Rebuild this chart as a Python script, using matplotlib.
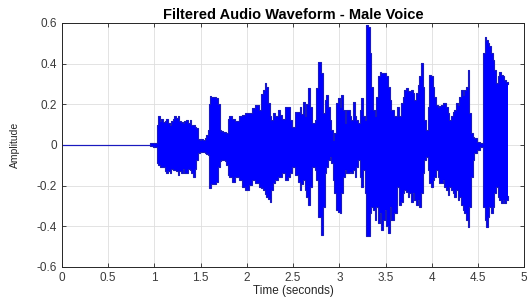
import numpy as np
import matplotlib
matplotlib.use("Agg")
import matplotlib.pyplot as plt

plt.rcParams['font.family'] = ['Liberation Sans', 'DejaVu Sans']

# envelope of the filtered signal (time s, upper, lower)
time_s = [0.0, 0.95, 0.96, 1.0, 1.02,
          1.03, 1.046, 1.064, 1.082, 1.10, 1.118, 1.136, 1.154, 1.172, 1.19,
          1.208, 1.226, 1.244, 1.262, 1.28, 1.298, 1.316, 1.334, 1.352, 1.37,
          1.389, 1.407, 1.425, 1.443, 1.461, 1.479, 1.497, 1.515, 1.533, 1.551,
          1.569, 1.587, 1.60, 1.61, 1.623, 1.641, 1.659, 1.677, 1.695, 1.713,
          1.731, 1.749, 1.767, 1.785, 1.803,
          1.821, 1.858, 1.894, 1.93, 1.966, 2.002, 2.038, 2.074, 2.11, 2.146,
          2.164, 2.182, 2.20, 2.218, 2.236, 2.254, 2.272, 2.29, 2.326, 2.345,
          2.363, 2.399, 2.435, 2.453, 2.471, 2.507, 2.543, 2.561, 2.579, 2.597,
          2.615, 2.633, 2.651, 2.669, 2.687, 2.723,
          2.741, 2.759, 2.777, 2.795, 2.813, 2.831, 2.849, 2.867, 2.885, 2.903,
          2.921, 2.939, 2.957, 2.975, 2.993, 3.012, 3.03, 3.048, 3.066, 3.084,
          3.102, 3.12, 3.138, 3.156, 3.174, 3.192, 3.21, 3.228, 3.246, 3.264,
          3.282, 3.30, 3.318, 3.336, 3.354, 3.372, 3.39, 3.408, 3.426, 3.444,
          3.462, 3.48, 3.499, 3.517, 3.535, 3.553, 3.571, 3.607,
          3.64, 3.658, 3.676, 3.694, 3.712, 3.73, 3.748, 3.766, 3.784, 3.802,
          3.82, 3.838, 3.856, 3.874, 3.893, 3.911, 3.929, 3.947, 3.965, 3.983,
          4.001, 4.019, 4.037, 4.055, 4.073, 4.091, 4.109, 4.127, 4.145, 4.163,
          4.181, 4.199, 4.217, 4.235, 4.253, 4.271, 4.289, 4.307, 4.325, 4.343,
          4.361, 4.38, 4.398, 4.416, 4.434, 4.452, 4.47, 4.506, 4.542, 4.555,
          4.565, 4.579, 4.597, 4.615, 4.633, 4.652, 4.67, 4.688, 4.706, 4.724,
          4.742, 4.76, 4.778, 4.796, 4.814, 4.828]

upper = [0.002, 0.002, 0.008, 0.01, 0.012,
         0.10, 0.14, 0.12, 0.13, 0.115, 0.12, 0.13, 0.11, 0.10, 0.12,
         0.13, 0.14, 0.135, 0.14, 0.12, 0.115, 0.11, 0.12, 0.123, 0.11,
         0.123, 0.10, 0.10, 0.09, 0.082, 0.03, 0.025, 0.03, 0.025, 0.033,
         0.05, 0.074, 0.20, 0.24, 0.238, 0.235, 0.238, 0.23, 0.20, 0.074,
         0.07, 0.066, 0.066, 0.06, 0.13,
         0.14, 0.128, 0.12, 0.14, 0.148, 0.156, 0.156, 0.18, 0.197, 0.172,
         0.25, 0.27, 0.304, 0.287, 0.205, 0.14, 0.123, 0.156, 0.14, 0.172,
         0.148, 0.13, 0.189, 0.189, 0.123, 0.09, 0.164, 0.164, 0.189, 0.15,
         0.213, 0.14, 0.20, 0.279, 0.189, 0.107,
         0.123, 0.28, 0.41, 0.41, 0.353, 0.156, 0.222, 0.246, 0.189, 0.123,
         0.074, 0.025, 0.057, 0.205, 0.23, 0.189, 0.246, 0.172, 0.107, 0.172,
         0.172, 0.14, 0.123, 0.213, 0.14, 0.123, 0.107, 0.172, 0.23, 0.14,
         0.123, 0.59, 0.58, 0.45, 0.287, 0.172, 0.14, 0.238, 0.337, 0.361,
         0.353, 0.353, 0.353, 0.337, 0.287, 0.222, 0.172, 0.14,
         0.189, 0.14, 0.205, 0.238, 0.271, 0.279, 0.263, 0.263, 0.271, 0.254,
         0.222, 0.254, 0.296, 0.337, 0.402, 0.287, 0.123, 0.074, 0.189, 0.345,
         0.337, 0.287, 0.238, 0.197, 0.189, 0.19, 0.197, 0.205, 0.205, 0.189,
         0.156, 0.123, 0.14, 0.164, 0.172, 0.205, 0.197, 0.238, 0.271, 0.246,
         0.271, 0.287, 0.37, 0.156, 0.057, 0.04, 0.033, 0.016, 0.01, 0.01,
         0.45, 0.53, 0.517, 0.50, 0.485, 0.45, 0.419, 0.37, 0.304, 0.337,
         0.361, 0.345, 0.337, 0.32, 0.312, 0.30]

lower = [-0.002, -0.002, -0.006, -0.008, -0.01,
         -0.09, -0.10, -0.11, -0.107, -0.11, -0.13, -0.14, -0.13, -0.14, -0.12,
         -0.125, -0.123, -0.13, -0.148, -0.13, -0.14, -0.12, -0.14, -0.14, -0.12,
         -0.123, -0.14, -0.156, -0.12, -0.074, -0.04, -0.033, -0.033, -0.035, -0.04,
         -0.045, -0.05, -0.21, -0.213, -0.19, -0.19, -0.19, -0.18, -0.107, -0.08,
         -0.074, -0.074, -0.08, -0.10, -0.148,
         -0.156, -0.181, -0.156, -0.172, -0.205, -0.222, -0.197, -0.172, -0.189, -0.205,
         -0.21, -0.222, -0.24, -0.254, -0.265, -0.279, -0.22, -0.189, -0.172, -0.16,
         -0.156, -0.14, -0.172, -0.16, -0.14, -0.107, -0.148, -0.18, -0.222, -0.19,
         -0.172, -0.22, -0.254, -0.295, -0.205, -0.107,
         -0.123, -0.172, -0.353, -0.353, -0.444, -0.304, -0.14, -0.107, -0.074, -0.057,
         -0.09, -0.172, -0.238, -0.32, -0.33, -0.337, -0.238, -0.156, -0.123, -0.14,
         -0.14, -0.131, -0.14, -0.123, -0.156, -0.107, -0.074, -0.156, -0.205, -0.123,
         -0.238, -0.45, -0.45, -0.337, -0.304, -0.32, -0.37, -0.304, -0.386, -0.337,
         -0.42, -0.37, -0.32, -0.40, -0.435, -0.304, -0.37, -0.337,
         -0.205, -0.296, -0.279, -0.238, -0.222, -0.23, -0.254, -0.238, -0.279, -0.238,
         -0.271, -0.296, -0.271, -0.304, -0.238, -0.14, -0.074, -0.057, -0.123, -0.189,
         -0.205, -0.172, -0.156, -0.123, -0.156, -0.189, -0.189, -0.172, -0.205, -0.222,
         -0.246, -0.205, -0.222, -0.238, -0.254, -0.222, -0.271, -0.254, -0.296, -0.32,
         -0.337, -0.37, -0.402, -0.304, -0.156, -0.074, -0.04, -0.025, -0.01, -0.01,
         -0.304, -0.37, -0.402, -0.353, -0.304, -0.337, -0.304, -0.238, -0.205, -0.254,
         -0.271, -0.287, -0.271, -0.287, -0.271, -0.25]

x_ticks = [0, 0.5, 1, 1.5, 2, 2.5, 3, 3.5, 4, 4.5, 5]
x_labels = ['0', '0.5', '1', '1.5', '2', '2.5', '3', '3.5', '4', '4.5', '5']
y_ticks = [-0.6, -0.4, -0.2, 0, 0.2, 0.4, 0.6]
y_labels = ['-0.6', '-0.4', '-0.2', '0', '0.2', '0.4', '0.6']

fig = plt.figure(figsize=(5.3, 3.02), dpi=100)
ax = fig.add_axes([0.117, 0.116, 0.872, 0.808])

t = np.array(time_s)
ax.fill_between(t, lower, upper, step='mid', color=(0, 0, 1), linewidth=0)
ax.step(t, upper, where='mid', color=(0.1, 0.1, 0.75), linewidth=0.8)
ax.step(t, lower, where='mid', color=(0.1, 0.1, 0.75), linewidth=0.8)

ax.set_xlim(0, 5)
ax.set_ylim(-0.6, 0.6)
ax.set_xticks(x_ticks)
ax.set_xticklabels(x_labels)
ax.set_yticks(y_ticks)
ax.set_yticklabels(y_labels)
ax.grid(True, color='#dedede', linewidth=0.6)
ax.set_axisbelow(True)
ax.tick_params(direction='in', top=True, right=True, length=3, width=0.6,
               colors='#262626', labelsize=8.5, labelcolor='#3a3a3a')
for s in ax.spines.values():
    s.set_color('#262626')
    s.set_linewidth(0.7)

ax.set_title('Filtered Audio Waveform - Male Voice', fontsize=10.5,
             fontweight='bold', pad=3)
ax.set_xlabel('Time (seconds)', fontsize=8.5, color='#262626', labelpad=1)
ax.set_ylabel('Amplitude', fontsize=7.5, color='#262626', labelpad=12)

fig.savefig('out.png', dpi=100)
